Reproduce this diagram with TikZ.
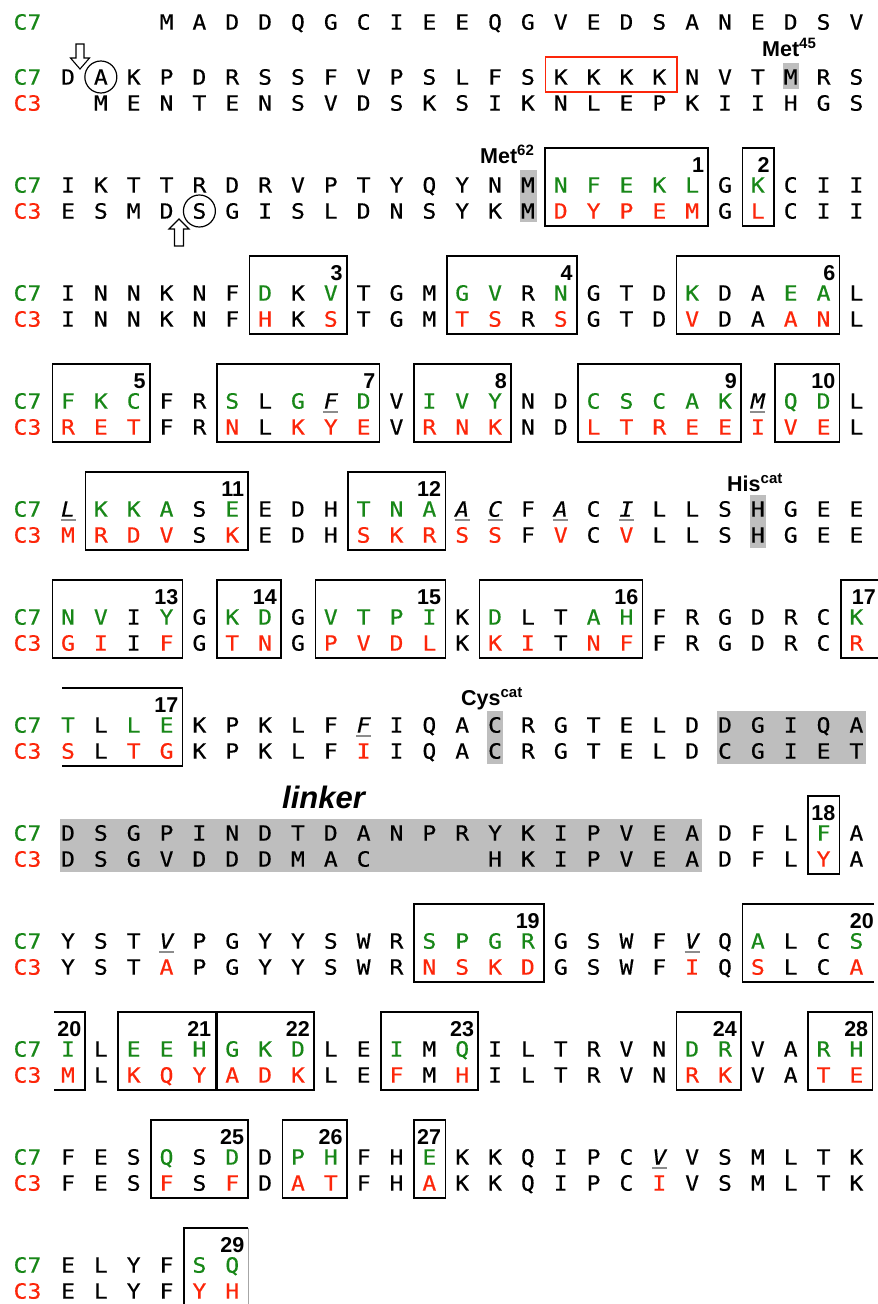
\documentclass[tikz,border=0pt]{standalone}
\usepackage{fontspec}
\newfontfamily\seqfont[FakeStretch=1.1,FakeBold=0.4,ItalicFont={DejaVu Sans Mono Oblique}]{DejaVu Sans Mono}
\newfontfamily\labfont{Liberation Sans}
\definecolor{cgreen}{RGB}{24,135,24}
\definecolor{cred}{RGB}{252,38,10}
\definecolor{hlgray}{RGB}{190,190,190}
\tikzset{
 Lb/.style={inner sep=0pt,text height=15.3pt,text depth=0pt,anchor=center,font=\seqfont\fontsize{21}{24}\selectfont},
 Lk/.style={Lb,text=black},
 Lg/.style={Lb,text=cgreen},
 Lr/.style={Lb,text=cred},
 Li/.style={Lb,text=black,font=\seqfont\itshape\fontsize{21}{24}\selectfont},
 boxln/.style={draw=black,line width=1.6pt},
 numlab/.style={inner sep=0pt,text height=15.4pt,text depth=0pt,anchor=east,font=\labfont\bfseries\fontsize{21.5}{21.5}\selectfont},
 toplab/.style={inner sep=0pt,anchor=base west,font=\labfont\bfseries\fontsize{21.5}{21.5}\selectfont},
 ulst/.style={draw=black!45,line width=1.3pt},
 hl/.style={fill=hlgray,draw=none},
 holarrow/.style={draw=black,line width=1.1pt,fill=white,line join=miter},
 ringst/.style={draw=black,line width=1.2pt,circle,minimum size=32pt,inner sep=0pt},
}
\newcommand\seqline[4]{\foreach \sstyle/\sletter [count=\si from #3] in {#4} {\node[\sstyle] (#1-\si) at ({68+32.85*(\si-1)},#2) {\sletter};}}
\newcommand\alnbox[4]{%
 \draw[boxln] ({68+32.85*(#2-1)-15.5},{77+108*(#1-2)-37}) rectangle ({68+32.85*(#3-1)+16},{77+108*(#1-2)+41});
 \node[numlab] (b#4-#1) at ({68+32.85*(#3-1)+12},{77+108*(#1-2)-20}) {#4};}
\newcommand\supx[1]{\raisebox{7.5pt}{\fontsize{15}{15}\selectfont #1}}
\newcommand\ulat[1]{\draw[ulst] ([xshift=-7.5pt,yshift=-3pt]#1.south) -- ([xshift=7.5pt,yshift=-3pt]#1.south);}
\begin{document}
\begin{tikzpicture}[x=1pt,y=-1pt]
\useasboundingbox (0,0) rectangle (878,1304);
% gray highlights
\fill[hl] (782.7,63) rectangle (798.7,89);
\fill[hl] (519.5,170) rectangle (536.5,222);
\fill[hl] (750,495) rectangle (766,548);
\fill[hl] (487,711) rectangle (503,764);
\fill[hl] (717,711) rectangle (866,764);
\fill[hl] (60,819) rectangle (702,872);
% labels
\node[Lg] (c7r1) at (27.5,22) {C7};
\foreach \r in {2,...,13} {
 \node[Lg] (c7r\r) at (27.5,{77+108*(\r-2)}) {C7};
 \node[Lr] (c3r\r) at (27.5,{103+108*(\r-2)}) {C3};
}
% row 1
\seqline{p1}{22}{4}{Lk/M,Lk/A,Lk/D,Lk/D,Lk/Q,Lk/G,Lk/C,Lk/I,Lk/E,Lk/E,Lk/Q,Lk/G,Lk/V,Lk/E,Lk/D,Lk/S,Lk/A,Lk/N,Lk/E,Lk/D,Lk/S,Lk/V}
% row 2
\seqline{p2}{77}{1}{Lk/D,Lk/A,Lk/K,Lk/P,Lk/D,Lk/R,Lk/S,Lk/S,Lk/F,Lk/V,Lk/P,Lk/S,Lk/L,Lk/F,Lk/S,Lk/K,Lk/K,Lk/K,Lk/K,Lk/N,Lk/V,Lk/T,Lk/M,Lk/R,Lk/S}
\seqline{q2}{103}{2}{Lk/M,Lk/E,Lk/N,Lk/T,Lk/E,Lk/N,Lk/S,Lk/V,Lk/D,Lk/S,Lk/K,Lk/S,Lk/I,Lk/K,Lk/N,Lk/L,Lk/E,Lk/P,Lk/K,Lk/I,Lk/I,Lk/H,Lk/G,Lk/S}
% row 3
\seqline{p3}{185}{1}{Lk/I,Lk/K,Lk/T,Lk/T,Lk/R,Lk/D,Lk/R,Lk/V,Lk/P,Lk/T,Lk/Y,Lk/Q,Lk/Y,Lk/N,Lk/M,Lg/N,Lg/F,Lg/E,Lg/K,Lg/L,Lk/G,Lg/K,Lk/C,Lk/I,Lk/I}
\seqline{q3}{211}{1}{Lk/E,Lk/S,Lk/M,Lk/D,Lk/S,Lk/G,Lk/I,Lk/S,Lk/L,Lk/D,Lk/N,Lk/S,Lk/Y,Lk/K,Lk/M,Lr/D,Lr/Y,Lr/P,Lr/E,Lr/M,Lk/G,Lr/L,Lk/C,Lk/I,Lk/I}
% row 4
\seqline{p4}{293}{1}{Lk/I,Lk/N,Lk/N,Lk/K,Lk/N,Lk/F,Lg/D,Lk/K,Lg/V,Lk/T,Lk/G,Lk/M,Lg/G,Lg/V,Lk/R,Lg/N,Lk/G,Lk/T,Lk/D,Lg/K,Lk/D,Lk/A,Lg/E,Lg/A,Lk/L}
\seqline{q4}{319}{1}{Lk/I,Lk/N,Lk/N,Lk/K,Lk/N,Lk/F,Lr/H,Lk/K,Lr/S,Lk/T,Lk/G,Lk/M,Lr/T,Lr/S,Lk/R,Lr/S,Lk/G,Lk/T,Lk/D,Lr/V,Lk/D,Lk/A,Lr/A,Lr/N,Lk/L}
% row 5
\seqline{p5}{401}{1}{Lg/F,Lg/K,Lg/C,Lk/F,Lk/R,Lg/S,Lk/L,Lg/G,Li/F,Lg/D,Lk/V,Lg/I,Lg/V,Lg/Y,Lk/N,Lk/D,Lg/C,Lg/S,Lg/C,Lg/A,Lg/K,Li/M,Lg/Q,Lg/D,Lk/L}
\seqline{q5}{427}{1}{Lr/R,Lr/E,Lr/T,Lk/F,Lk/R,Lr/N,Lk/L,Lr/K,Lr/Y,Lr/E,Lk/V,Lr/R,Lr/N,Lr/K,Lk/N,Lk/D,Lr/L,Lr/T,Lr/R,Lr/E,Lr/E,Lr/I,Lr/V,Lr/E,Lk/L}
% row 6
\seqline{p6}{509}{1}{Li/L,Lg/K,Lg/K,Lg/A,Lk/S,Lg/E,Lk/E,Lk/D,Lk/H,Lg/T,Lg/N,Lg/A,Li/A,Li/C,Lk/F,Li/A,Lk/C,Li/I,Lk/L,Lk/L,Lk/S,Lk/H,Lk/G,Lk/E,Lk/E}
\seqline{q6}{535}{1}{Lr/M,Lr/R,Lr/D,Lr/V,Lk/S,Lr/K,Lk/E,Lk/D,Lk/H,Lr/S,Lr/K,Lr/R,Lr/S,Lr/S,Lk/F,Lr/V,Lk/C,Lr/V,Lk/L,Lk/L,Lk/S,Lk/H,Lk/G,Lk/E,Lk/E}
% row 7
\seqline{p7}{617}{1}{Lg/N,Lg/V,Lk/I,Lg/Y,Lk/G,Lg/K,Lg/D,Lk/G,Lg/V,Lg/T,Lg/P,Lg/I,Lk/K,Lg/D,Lk/L,Lk/T,Lg/A,Lg/H,Lk/F,Lk/R,Lk/G,Lk/D,Lk/R,Lk/C,Lg/K}
\seqline{q7}{643}{1}{Lr/G,Lr/I,Lk/I,Lr/F,Lk/G,Lr/T,Lr/N,Lk/G,Lr/P,Lr/V,Lr/D,Lr/L,Lk/K,Lr/K,Lr/I,Lk/T,Lr/N,Lr/F,Lk/F,Lk/R,Lk/G,Lk/D,Lk/R,Lk/C,Lr/R}
% row 8
\seqline{p8}{725}{1}{Lg/T,Lk/L,Lg/L,Lg/E,Lk/K,Lk/P,Lk/K,Lk/L,Lk/F,Li/F,Lk/I,Lk/Q,Lk/A,Lk/C,Lk/R,Lk/G,Lk/T,Lk/E,Lk/L,Lk/D,Lk/D,Lk/G,Lk/I,Lk/Q,Lk/A}
\seqline{q8}{751}{1}{Lr/S,Lk/L,Lr/T,Lr/G,Lk/K,Lk/P,Lk/K,Lk/L,Lk/F,Lr/I,Lk/I,Lk/Q,Lk/A,Lk/C,Lk/R,Lk/G,Lk/T,Lk/E,Lk/L,Lk/D,Lk/C,Lk/G,Lk/I,Lk/E,Lk/T}
% row 9
\seqline{p9}{833}{1}{Lk/D,Lk/S,Lk/G,Lk/P,Lk/I,Lk/N,Lk/D,Lk/T,Lk/D,Lk/A,Lk/N,Lk/P,Lk/R,Lk/Y,Lk/K,Lk/I,Lk/P,Lk/V,Lk/E,Lk/A,Lk/D,Lk/F,Lk/L,Lg/F,Lk/A}
\seqline{q9}{859}{1}{Lk/D,Lk/S,Lk/G,Lk/V,Lk/D,Lk/D,Lk/D,Lk/M,Lk/A,Lk/C}
\seqline{q9}{859}{14}{Lk/H,Lk/K,Lk/I,Lk/P,Lk/V,Lk/E,Lk/A,Lk/D,Lk/F,Lk/L,Lr/Y,Lk/A}
% row 10
\seqline{p10}{941}{1}{Lk/Y,Lk/S,Lk/T,Li/V,Lk/P,Lk/G,Lk/Y,Lk/Y,Lk/S,Lk/W,Lk/R,Lg/S,Lg/P,Lg/G,Lg/R,Lk/G,Lk/S,Lk/W,Lk/F,Li/V,Lk/Q,Lg/A,Lk/L,Lk/C,Lg/S}
\seqline{q10}{967}{1}{Lk/Y,Lk/S,Lk/T,Lr/A,Lk/P,Lk/G,Lk/Y,Lk/Y,Lk/S,Lk/W,Lk/R,Lr/N,Lr/S,Lr/K,Lr/D,Lk/G,Lk/S,Lk/W,Lk/F,Lr/I,Lk/Q,Lr/S,Lk/L,Lk/C,Lr/A}
% row 11
\seqline{p11}{1049}{1}{Lg/I,Lk/L,Lg/E,Lg/E,Lg/H,Lg/G,Lg/K,Lg/D,Lk/L,Lk/E,Lg/I,Lk/M,Lg/Q,Lk/I,Lk/L,Lk/T,Lk/R,Lk/V,Lk/N,Lg/D,Lg/R,Lk/V,Lk/A,Lg/R,Lg/H}
\seqline{q11}{1075}{1}{Lr/M,Lk/L,Lr/K,Lr/Q,Lr/Y,Lr/A,Lr/D,Lr/K,Lk/L,Lk/E,Lr/F,Lk/M,Lr/H,Lk/I,Lk/L,Lk/T,Lk/R,Lk/V,Lk/N,Lr/R,Lr/K,Lk/V,Lk/A,Lr/T,Lr/E}
% row 12
\seqline{p12}{1157}{1}{Lk/F,Lk/E,Lk/S,Lg/Q,Lk/S,Lg/D,Lk/D,Lg/P,Lg/H,Lk/F,Lk/H,Lg/E,Lk/K,Lk/K,Lk/Q,Lk/I,Lk/P,Lk/C,Li/V,Lk/V,Lk/S,Lk/M,Lk/L,Lk/T,Lk/K}
\seqline{q12}{1183}{1}{Lk/F,Lk/E,Lk/S,Lr/F,Lk/S,Lr/F,Lk/D,Lr/A,Lr/T,Lk/F,Lk/H,Lr/A,Lk/K,Lk/K,Lk/Q,Lk/I,Lk/P,Lk/C,Lr/I,Lk/V,Lk/S,Lk/M,Lk/L,Lk/T,Lk/K}
% row 13
\seqline{p13}{1265}{1}{Lk/E,Lk/L,Lk/Y,Lk/F,Lg/S,Lg/Q}
\seqline{q13}{1291}{1}{Lk/E,Lk/L,Lk/Y,Lk/F,Lr/Y,Lr/H}
% underlines of italic residues
\ulat{p5-9}\ulat{p5-22}
\ulat{p6-1}\ulat{p6-13}\ulat{p6-14}\ulat{p6-16}\ulat{p6-18}
\ulat{p8-10}
\ulat{p10-4}\ulat{p10-20}
\ulat{p12-19}
% boxes
\alnbox{3}{16}{20}{1}\alnbox{3}{22}{22}{2}
\alnbox{4}{7}{9}{3}\alnbox{4}{13}{16}{4}\alnbox{4}{20}{24}{6}
\alnbox{5}{1}{3}{5}\alnbox{5}{6}{10}{7}\alnbox{5}{12}{14}{8}\alnbox{5}{17}{21}{9}\alnbox{5}{23}{24}{10}
\alnbox{6}{2}{6}{11}\alnbox{6}{10}{12}{12}
\alnbox{7}{1}{4}{13}\alnbox{7}{6}{7}{14}\alnbox{7}{9}{12}{15}\alnbox{7}{14}{18}{16}
\alnbox{9}{24}{24}{18}
\alnbox{10}{12}{15}{19}
\alnbox{11}{3}{5}{21}\alnbox{11}{6}{8}{22}\alnbox{11}{11}{13}{23}\alnbox{11}{20}{21}{24}\alnbox{11}{24}{25}{28}
\alnbox{12}{4}{6}{25}\alnbox{12}{8}{9}{26}\alnbox{12}{12}{12}{27}
% open boxes
\draw[boxln] (878,580) -- (840.9,580) -- (840.9,658) -- (878,658);
\node[numlab] (b17-7) at (876,597) {17};
\draw[boxln] (62,688) -- (182.6,688) -- (182.6,766) -- (62,766);
\node[numlab] (b17-8) at (178.5,705) {17};
\draw[boxln] (874,904) -- (742.4,904) -- (742.4,982) -- (874,982);
\node[numlab] (b20-10) at (874,921) {20};
\draw[boxln] (54,1012) -- (85,1012) -- (85,1090) -- (54,1090);
\node[numlab] (b20-11) at (81.5,1029) {20};
\draw[boxln] (183.9,1304) -- (183.9,1228) -- (248.3,1228);
\draw[draw=black!35,line width=1.4pt] (248.3,1228) -- (248.3,1304);
\node[numlab] (b29-13) at (244.5,1245) {29};
% red KKKK box
\draw[draw=cred,line width=1.5pt] (545.3,57) rectangle (676.8,92);
% circles
\node[ringst] (ringA) at (p2-2) {};
\node[ringst] (ringS) at (q3-5) {};
% hollow arrows
\draw[holarrow] (76,44) -- (84,44) -- (84,58) -- (89.5,58) -- (80,69) -- (70.5,58) -- (76,58) -- cycle;
\draw[holarrow] (179,219) -- (189,229) -- (183.5,229) -- (183.5,246) -- (174.5,246) -- (174.5,229) -- (169,229) -- cycle;
% top labels
\node[toplab] (met45) at (762,56) {Met\supx{45}};
\node[toplab] (met62) at (480,163) {Met\supx{62}};
\node[toplab] (hiscat) at (727,491) {His\supx{cat}};
\node[toplab] (cyscat) at (461,705) {Cys\supx{cat}};
\node[inner sep=0pt,anchor=base west,font=\labfont\bfseries\itshape\fontsize{31}{31}\selectfont] (linker) at (282,808) {linker};
\end{tikzpicture}
\end{document}
